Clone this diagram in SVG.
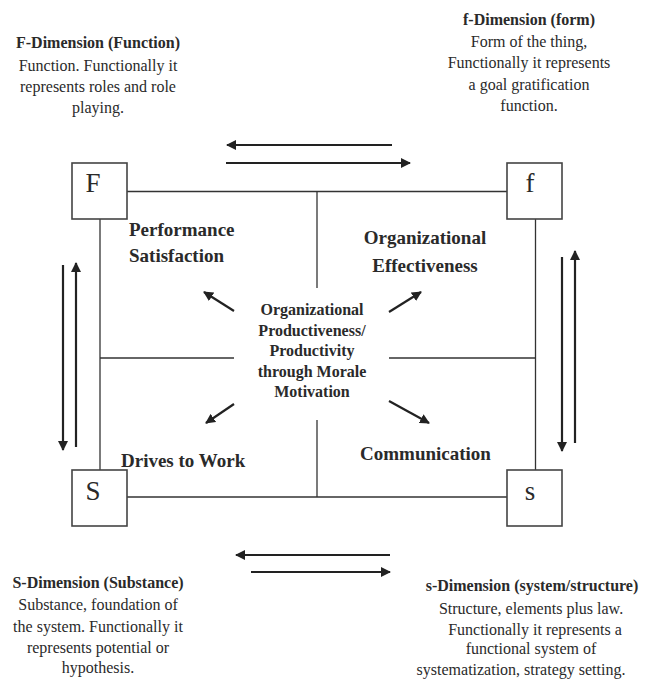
<svg xmlns="http://www.w3.org/2000/svg" width="648" height="689" viewBox="0 0 648 689">
<defs>
<style>
text{font-family:"Liberation Serif","Times New Roman",serif;fill:#2a2a2a}
.h{font-size:16px;font-weight:bold}
.b{font-size:16px}
.c{font-size:16px;font-weight:bold;text-anchor:middle}
.l{font-size:19px;font-weight:bold}
.m{text-anchor:middle}
.k{font-size:27px;text-anchor:middle}
.box{fill:#fff;stroke:#444;stroke-width:1.6}
.ln{stroke:#333;stroke-width:1.3;fill:none}
.ar{stroke:#222;stroke-width:2.2;fill:none;marker-end:url(#ah)}
</style>
<marker id="ah" markerWidth="10" markerHeight="10" refX="9" refY="5" orient="auto" markerUnits="userSpaceOnUse">
<path d="M0,0 L10,5 L0,10 Z" fill="#222"/>
</marker>
</defs>
<rect width="648" height="689" fill="#fff"/>
<g id="connectors">
<line class="ln" x1="127" y1="191.5" x2="507" y2="191.5"/>
<line class="ln" x1="127" y1="497" x2="507" y2="497"/>
<line class="ln" x1="100" y1="219" x2="100" y2="470"/>
<line class="ln" x1="535.5" y1="219" x2="535.5" y2="470"/>
<line class="ln" x1="317" y1="191.5" x2="317" y2="288"/>
<line class="ln" x1="317" y1="420" x2="317" y2="497"/>
<line class="ln" x1="100" y1="358" x2="234" y2="358"/>
<line class="ln" x1="389" y1="358" x2="535.5" y2="358"/>
<line class="ar" x1="392" y1="145" x2="227" y2="145"/>
<line class="ar" x1="226" y1="163" x2="410" y2="163"/>
<line class="ar" x1="390" y1="555" x2="236" y2="555"/>
<line class="ar" x1="251" y1="572" x2="390" y2="572"/>
<line class="ar" x1="63" y1="265" x2="63" y2="450"/>
<line class="ar" x1="76" y1="447" x2="76" y2="263"/>
<line class="ar" x1="562" y1="257" x2="562" y2="451"/>
<line class="ar" x1="575" y1="443" x2="575" y2="251"/>
<line class="ar" x1="234" y1="311" x2="204" y2="292"/>
<line class="ar" x1="389" y1="312" x2="421" y2="292"/>
<line class="ar" x1="234" y1="404" x2="206" y2="423"/>
<line class="ar" x1="389" y1="401" x2="429" y2="423"/>
</g>
<g id="node-F">
<rect class="box" x="72" y="163" width="55" height="56"/>
<text class="k" x="93" y="192">F</text>
</g>
<g id="node-f">
<rect class="box" x="507" y="163" width="55" height="56"/>
<text class="k" x="530" y="192">f</text>
</g>
<g id="node-S">
<rect class="box" x="72" y="470" width="55" height="56"/>
<text class="k" x="93" y="500">S</text>
</g>
<g id="node-s">
<rect class="box" x="507" y="470" width="55" height="56"/>
<text class="k" x="530" y="500">s</text>
</g>
<g id="center">
<text class="c" x="312" y="315">Organizational</text>
<text class="c" x="312" y="336">Productiveness/</text>
<text class="c" x="312" y="356">Productivity</text>
<text class="c" x="312" y="377">through Morale</text>
<text class="c" x="312" y="397">Motivation</text>
</g>
<g id="quadrant-labels">
<text class="l" x="129" y="236">Performance</text>
<text class="l" x="129" y="262">Satisfaction</text>
<text class="l" x="425" y="244" text-anchor="middle">Organizational</text>
<text class="l" x="425" y="272" text-anchor="middle">Effectiveness</text>
<text class="l" x="121" y="467">Drives to Work</text>
<text class="l" x="360" y="460">Communication</text>
</g>
<g id="F-dimension">
<text class="h m" x="98" y="48">F-Dimension (Function)</text>
<text class="b m" x="98" y="71">Function. Functionally it</text>
<text class="b m" x="98" y="92">represents roles and role</text>
<text class="b m" x="98" y="113">playing.</text>
</g>
<g id="f-dimension">
<text class="h m" x="529" y="25">f-Dimension (form)</text>
<text class="b m" x="529" y="47">Form of the thing,</text>
<text class="b m" x="529" y="68">Functionally it represents</text>
<text class="b m" x="529" y="90">a goal gratification</text>
<text class="b m" x="529" y="111">function.</text>
</g>
<g id="S-dimension">
<text class="h m" x="98" y="588">S-Dimension (Substance)</text>
<text class="b m" x="98" y="610">Substance, foundation of</text>
<text class="b m" x="98" y="632">the system. Functionally it</text>
<text class="b m" x="98" y="653">represents potential or</text>
<text class="b m" x="98" y="673">hypothesis.</text>
</g>
<g id="s-dimension">
<text class="h m" x="532" y="591">s-Dimension (system/structure)</text>
<text class="b m" x="531" y="614">Structure, elements plus law.</text>
<text class="b m" x="535" y="635">Functionally it represents a</text>
<text class="b m" x="531" y="654">functional system of</text>
<text class="b m" x="521" y="675">systematization, strategy setting.</text>
</g>
</svg>
